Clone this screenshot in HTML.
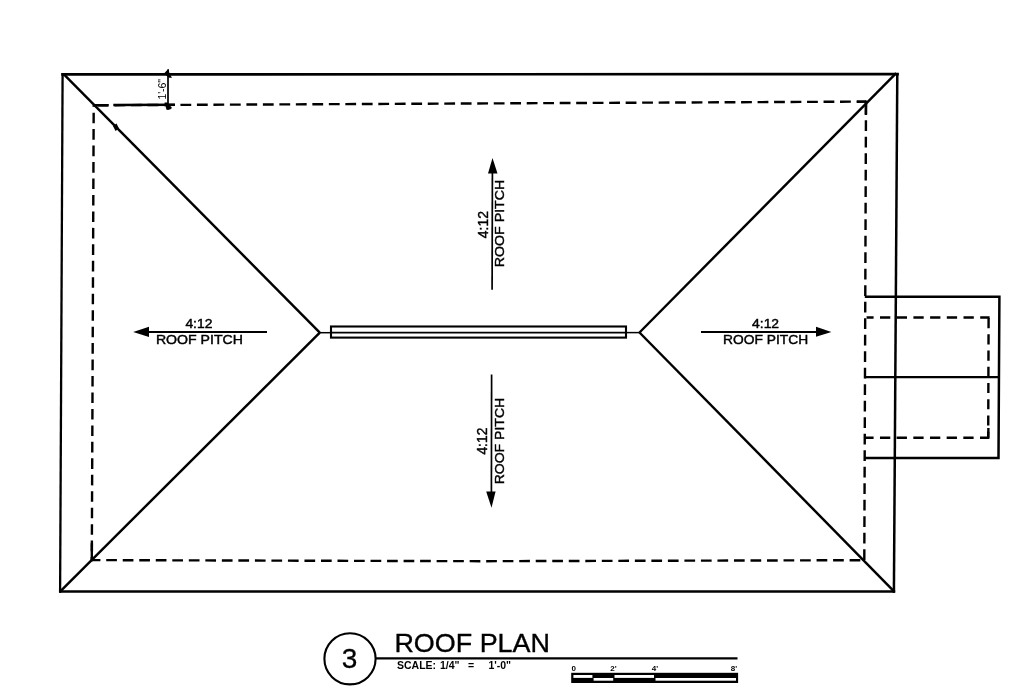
<!DOCTYPE html>
<html><head><meta charset="utf-8"><title>Roof Plan</title>
<style>
html,body{margin:0;padding:0;background:#fff;width:1024px;height:699px;overflow:hidden}
svg{display:block;filter:grayscale(100%)}
text{font-family:"Liberation Sans",sans-serif;fill:#000}
</style></head><body>
<svg width="1024" height="699" viewBox="0 0 1024 699">
<rect width="1024" height="699" fill="#fff"/>
<g fill="none" stroke="#000" stroke-linecap="butt">
  <!-- outer eave -->
  <line x1="61.3" y1="74.35" x2="898.8" y2="74.2" stroke-width="2.7"/>
  <line x1="59.3" y1="591.6" x2="895.2" y2="591.6" stroke-width="2.5"/>
  <line x1="62.6" y1="73" x2="60.1" y2="592.8" stroke-width="2.3"/>
  <line x1="897.3" y1="73" x2="893.9" y2="592.8" stroke-width="2.5"/>
  <!-- hips -->
  <line x1="63.4" y1="73.9" x2="319.8" y2="332.6" stroke-width="2.45"/>
  <line x1="59.8" y1="591.8" x2="319.8" y2="332.6" stroke-width="2.45"/>
  <line x1="896.2" y1="73.2" x2="639.5" y2="332.5" stroke-width="2.45"/>
  <line x1="894.5" y1="591.8" x2="639.5" y2="332.5" stroke-width="2.45"/>
  <!-- ridge -->
  <line x1="319.5" y1="332.7" x2="331" y2="332.7" stroke-width="1.5"/>
  <line x1="626" y1="332.6" x2="639.8" y2="332.6" stroke-width="1.5"/>
  <rect x="331" y="326.5" width="295" height="11.1" stroke-width="2.1"/>
  <line x1="331" y1="332.7" x2="626" y2="332.6" stroke-width="1.7"/>
  <!-- wall dashed -->
  <g stroke-width="2.4">
    <line x1="93.7" y1="105.3" x2="866" y2="101.6" stroke-dasharray="10.8 5.69" stroke-dashoffset="12.2"/>
    <polyline points="91.8,560.1 480,561.2 864.3,560.2" stroke-dasharray="10.7 5.82" stroke-dashoffset="2.1"/>
    <line x1="93.7" y1="105.3" x2="91.8" y2="560.1" stroke-dasharray="10.6 5.86" stroke-dashoffset="9.1"/>
    <line x1="866" y1="101.6" x2="864.3" y2="560.2" stroke-dasharray="10.6 5.9" stroke-dashoffset="14.3"/>
    <!-- corner solid bits -->
    <line x1="93.7" y1="105.3" x2="108" y2="105.2"/>
    <line x1="866" y1="101.6" x2="857" y2="101.7"/>
    <line x1="866" y1="100.5" x2="865.9" y2="115"/>
    <line x1="91.86" y1="543.2" x2="91.8" y2="561.2"/>
  </g>
  <!-- dimension 1'-6" -->
  <line x1="168" y1="69.5" x2="168" y2="109.7" stroke-width="1.7"/>
  <line x1="113.3" y1="105.1" x2="175" y2="104.8" stroke-width="2.5"/>
  <!-- annex -->
  <polyline points="864.8,296.8 999.4,296.8 998.5,458 864.5,458" stroke-width="2.5"/>
  <line x1="864.7" y1="377.2" x2="998.8" y2="377.2" stroke-width="2.3"/>
  <g stroke-width="2.4">
    <line x1="866.6" y1="317.5" x2="989.6" y2="317.5" stroke-dasharray="10.3 6.4" stroke-dashoffset="3.3"/>
    <line x1="988.6" y1="317.5" x2="988.2" y2="438.3" stroke-dasharray="10.2 6.04" stroke-dashoffset="15.78"/>
    <line x1="864.4" y1="437.8" x2="989" y2="437.8" stroke-dasharray="10.3 6.37" stroke-dashoffset="1.1"/>
    <line x1="988.4" y1="428" x2="988.2" y2="438.8"/>
  </g>
  <!-- arrows shafts -->
  <line x1="148" y1="332" x2="267" y2="332" stroke-width="1.8"/>
  <line x1="701" y1="332" x2="817" y2="332" stroke-width="1.8"/>
  <line x1="492.4" y1="172" x2="492.1" y2="289.7" stroke-width="1.7"/>
  <line x1="491.6" y1="374.4" x2="491.4" y2="493" stroke-width="1.7"/>
  <!-- title -->
  <circle cx="350" cy="658.8" r="25.6" stroke-width="2.1"/>
  <line x1="376" y1="658.4" x2="737.5" y2="658.4" stroke-width="2.2"/>
</g>
<g fill="#000">
  <polygon points="133.2,332 149,326.8 149,337.1"/>
  <polygon points="831.4,332 816,326.8 816,336.8"/>
  <polygon points="492.5,158 488,173.5 497.5,173.5"/>
  <polygon points="491.5,507.7 486.2,491.6 495.6,491.6"/>
  <!-- dimension ticks -->
  <polygon points="164,73.5 168.5,68.8 169.5,73.5 172,77.8 169,77.8"/>
  <polygon points="164.5,102.5 167.5,102.5 172,108 170,109.5 166.5,109.7"/>
  <!-- hip blob -->
  <polygon points="113,126 116.5,123.5 119,128.5 115.5,131"/>
</g>
<!-- texts -->
<g stroke="#000" stroke-width="0.42">
<g font-size="12.6">
  <text x="198.9" y="328.3" text-anchor="middle" textLength="27" lengthAdjust="spacingAndGlyphs">4:12</text>
  <text x="199.4" y="344.4" text-anchor="middle" textLength="87" lengthAdjust="spacingAndGlyphs">ROOF PITCH</text>
  <text x="765.6" y="328" text-anchor="middle" textLength="27" lengthAdjust="spacingAndGlyphs">4:12</text>
  <text x="765.6" y="344.4" text-anchor="middle" textLength="85" lengthAdjust="spacingAndGlyphs">ROOF PITCH</text>
</g>
<g font-size="13.6">
  <text transform="translate(488.2,224.6) rotate(-90)" text-anchor="middle" font-size="14.6" textLength="27.2" lengthAdjust="spacingAndGlyphs">4:12</text>
  <text transform="translate(503.9,223.5) rotate(-90)" text-anchor="middle" textLength="87.5" lengthAdjust="spacingAndGlyphs">ROOF PITCH</text>
  <text transform="translate(487.2,441.1) rotate(-90)" text-anchor="middle" font-size="14.3" textLength="27" lengthAdjust="spacingAndGlyphs">4:12</text>
  <text transform="translate(503.7,441.1) rotate(-90)" text-anchor="middle" textLength="86.5" lengthAdjust="spacingAndGlyphs">ROOF PITCH</text>
</g>
</g>
<text transform="translate(165.6,89.3) rotate(-90)" font-size="10.6" text-anchor="middle" textLength="20.5" lengthAdjust="spacing">1'-6"</text>
<text x="349.6" y="668" font-size="28" text-anchor="middle" stroke="#000" stroke-width="0.3">3</text>
<text x="394.4" y="652.2" font-size="26" textLength="155.6" lengthAdjust="spacingAndGlyphs" stroke="#000" stroke-width="0.35">ROOF PLAN</text>
<g font-size="10.5" font-weight="bold">
  <text x="397" y="669">SCALE:</text>
  <text x="440" y="669">1/4"</text>
  <text x="468" y="669">=</text>
  <text x="488.4" y="669">1'-0"</text>
</g>
<!-- scale bar -->
<rect x="571.2" y="672.8" width="166.9" height="10.2" fill="#000"/>
<g fill="#fff">
  <rect x="573.4" y="675" width="19" height="2.9"/>
  <rect x="593.6" y="678" width="19.6" height="2.7"/>
  <rect x="614.5" y="675" width="39.5" height="2.9"/>
  <rect x="655.5" y="678" width="80.5" height="2.7"/>
</g>
<g font-size="8" font-weight="bold">
  <text x="571.4" y="670.5">0</text>
  <text x="610.2" y="670.5">2'</text>
  <text x="651.7" y="670.5">4'</text>
  <text x="730.8" y="670.5">8'</text>
</g>
</svg>
</body></html>
